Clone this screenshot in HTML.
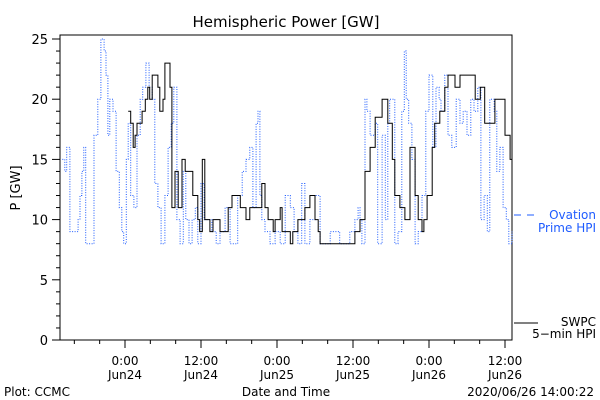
<!DOCTYPE html>
<html><head><meta charset="utf-8"><style>
html,body{margin:0;padding:0;background:#fff;}
svg{display:block;font-family:"DejaVu Sans","Liberation Sans",sans-serif;}
</style></head><body>
<svg id="chart" width="600" height="400" xmlns="http://www.w3.org/2000/svg">
<text x="286" y="27" font-size="15" text-anchor="middle">Hemispheric Power [GW]</text>
<text transform="translate(20,188) rotate(-90)" font-size="13" text-anchor="middle">P [GW]</text>
<text x="286" y="396" font-size="12" text-anchor="middle">Date and Time</text>
<text x="4" y="396" font-size="12">Plot: CCMC</text>
<text x="594" y="396" font-size="12" text-anchor="end">2020/06/26 14:00:22</text>
<g id="axes"></g>
<g id="series"></g>
<g>
<line x1="514" y1="215" x2="540" y2="215" stroke="#1f5cff" stroke-dasharray="7,6"/>
<text x="596" y="219" font-size="12" fill="#1f5cff" text-anchor="end">Ovation</text>
<text x="596" y="232" font-size="12" fill="#1f5cff" text-anchor="end">Prime HPI</text>
<line x1="514" y1="323" x2="538" y2="323" stroke="#000"/>
<text x="596" y="326" font-size="12" text-anchor="end">SWPC</text>
<text x="596" y="338" font-size="12" text-anchor="end">5−min HPI</text>
</g>
</svg>
<script>
// hours relative to 2020-06-24 00:00
const yTicks=[0,5,10,15,20,25];
const xTickHours=[0,12,24,36,48,60];
const xTickLabels1=["0:00","12:00","0:00","12:00","0:00","12:00"];
const xTickLabels2=["Jun24","Jun24","Jun25","Jun25","Jun26","Jun26"];
const swpcHours=[0.5,0.9,1.3,1.6,1.9,2.4,2.7,3.2,3.6,3.9,4.3,5.2,5.5,6.0,6.3,6.8,7.1,7.4,7.9,8.4,9.0,9.5,10.3,10.7,11.5,11.8,12.2,12.6,13.4,13.9,14.2,15.0,15.8,16.3,16.9,18.2,19.1,19.7,21.6,22.1,22.6,23.4,23.7,24.5,24.8,26.1,26.5,27.3,28.4,29.2,30.0,30.5,30.8,32.4,34.7,35.5,36.3,37.1,37.9,38.7,39.5,40.6,41.5,42.2,42.6,43.4,44.2,45.0,45.8,46.3,46.9,47.2,47.7,48.5,48.9,49.7,50.5,51.0,52.1,52.9,54.5,55.3,56.1,56.8,57.6,58.4,59.2,60.0,60.8,61.1];
const swpcValues=[19,18,16,17,18,18,19,20,21,20,22,21,19,20,23,23,21,11,14,11,15,14,14,12,10,9,15,10,9,10,10,9,9,11,12,11,10,11,13,11,10,9,10,11,9,8,9,10,11,12,10,9,8,8,8,8,9,10,14,16,18.5,20,18,15,12,11,10,16,12,10,9,10,12,16,18,19,21,22,21,22,22,20,21,18,18,20,20,17,15,14];
const ovHours=[-9.9,-9.5,-9.2,-8.7,-7.9,-7.4,-7.1,-6.8,-6.5,-6.2,-5.5,-4.9,-4.3,-3.8,-3.3,-3.0,-2.7,-2.4,-1.9,-1.4,-0.9,-0.5,-0.2,0.2,0.5,0.9,1.4,1.9,2.4,2.8,3.3,3.8,4.3,4.7,5.2,5.7,6.0,6.3,6.8,7.3,7.7,8.2,8.7,9.2,9.6,10.1,10.6,11.1,11.5,12.0,12.5,13.1,13.7,14.4,15.0,15.8,16.6,17.4,17.8,18.5,19.1,19.7,20.2,20.7,21.0,21.3,21.6,22.1,22.9,23.7,24.5,25.3,26.1,26.7,27.3,27.9,28.4,29.2,30.0,30.8,31.6,32.4,33.2,33.9,34.7,35.5,36.3,36.8,37.1,37.4,37.9,38.2,38.7,39.5,39.9,40.6,41.1,41.5,41.8,42.6,43.1,43.7,44.1,44.4,44.8,45.3,45.8,46.3,46.9,47.5,48.0,48.6,49.1,49.6,49.9,50.5,51.0,51.6,52.3,52.9,53.4,54.0,54.6,55.1,55.7,56.2,56.7,57.2,57.6,58.3,58.7,59.2,59.7,60.2,60.6,61.1];
const ovValues=[15,14,16,9,9,10,12,14,16,8,8,17,20,25,24,22,17,20,19,14,11,9,8,15,18,12,11,17,20,21,23,21,20,13,11,8,8,12,16,18,21,10,8,14,10,8,10,11,8,13,10,10,9,8,9,11,8,8,12,14,15,16,11,18,19,12,10,9,8,9,8,12,11,9,8,13,8,10,12,8,8,9,9,8,8,9,10,11,10,8,20,19,17,18,8,17,10,18,20,8,9,19,24,20,18,15,8,9,12,19,22,16,21,20,19,22,17,16,20,18,19,17,20,19,21,10,12,9,20,19,14,16,11,10,8,9];

const X0=125, PXH=76/12, Y0=340, PXV=(340-39)/25;
const L=60,R=512,T=35,B=340;
const xs=h=>X0+h*PXH, ys=v=>Y0-v*PXV;
const NS="http://www.w3.org/2000/svg";
const ax=document.getElementById('axes'), sg=document.getElementById('series');
function mk(tag,attrs,parent){const e=document.createElementNS(NS,tag);for(const k in attrs)e.setAttribute(k,attrs[k]);parent.appendChild(e);return e;}

let e=mk('rect',{x:L,y:T,width:R-L,height:B-T,fill:'none',stroke:'#000','stroke-width':1},ax);


for(let v=0;v<=25;v++){
  const len=v%5===0?8:4;
  e=mk('line',{x1:L-len,y1:ys(v),x2:L,y2:ys(v),stroke:'#000'},ax);
  
  
}
yTicks.forEach(v=>{
  e=mk('text',{x:L-12,y:ys(v)+5,'font-size':13,'text-anchor':'end'},ax);
  e.textContent=v;
  
  
});
for(let h=-8;h<=60;h+=4){
  const len=h%12===0?8:4;
  e=mk('line',{x1:xs(h),y1:B,x2:xs(h),y2:B+len,stroke:'#000'},ax);
  
  
}
xTickHours.forEach((h,i)=>{
  e=mk('text',{x:xs(h),y:B+25,'font-size':12,'text-anchor':'middle'},ax);
  e.textContent=xTickLabels1[i];
  
  
  e=mk('text',{x:xs(h),y:B+39,'font-size':12,'text-anchor':'middle'},ax);
  e.textContent=xTickLabels2[i];
  
  
});
function stepPath(hs,vs){
  let d='M'+xs(hs[0]).toFixed(1)+','+ys(vs[0]).toFixed(1);
  for(let i=1;i<hs.length;i++){d+='H'+xs(hs[i]).toFixed(1)+'V'+ys(vs[i]).toFixed(1);}
  return d;
}
e=mk('path',{d:stepPath(ovHours,ovValues),fill:'none',stroke:'#1f5cff','stroke-width':1,'stroke-dasharray':'1,1.5'},sg);


e=mk('path',{d:stepPath(swpcHours,swpcValues),fill:'none',stroke:'#000','stroke-width':1},sg);


</script>
</body></html>
